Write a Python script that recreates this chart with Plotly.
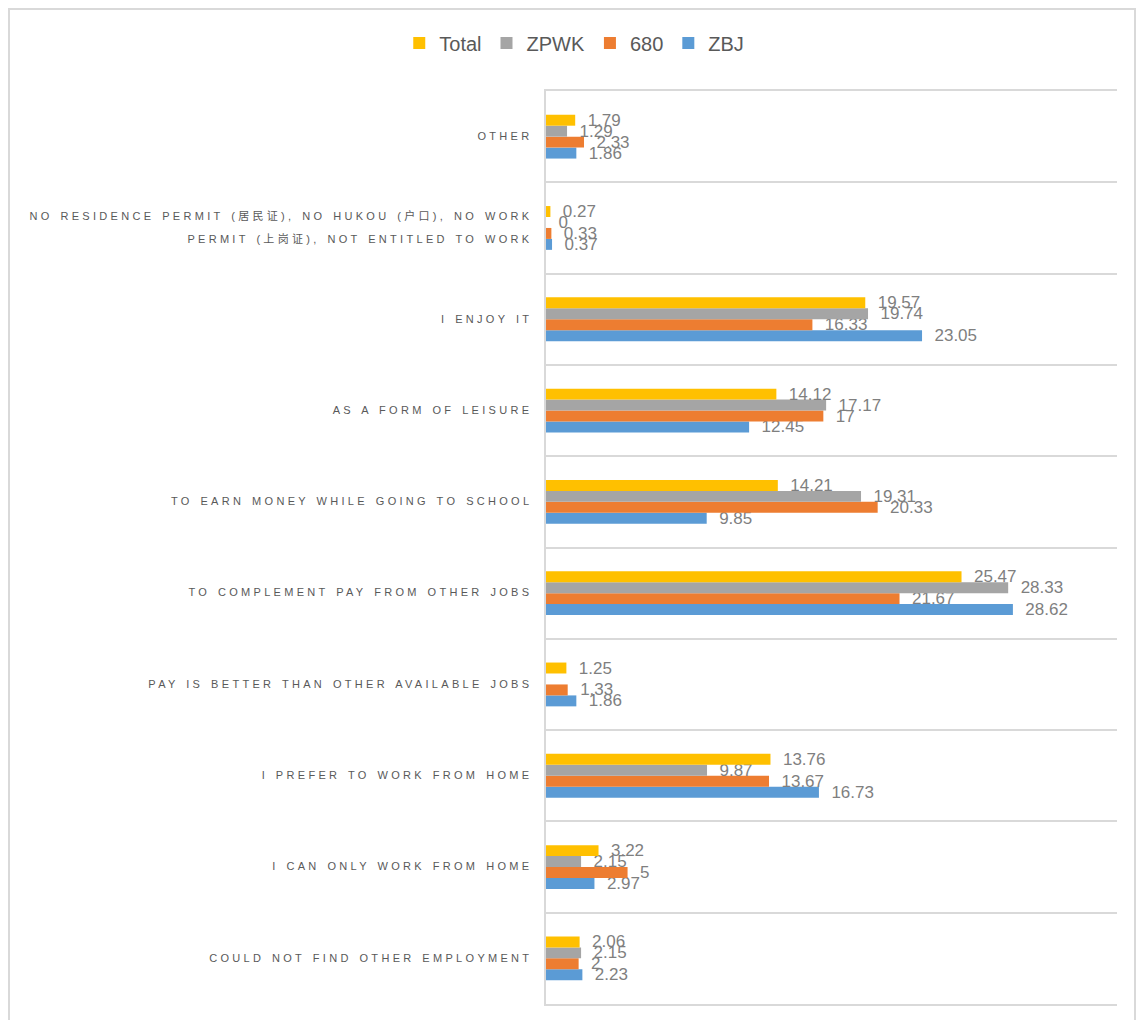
import plotly.graph_objects as go

# Categories listed bottom to top
categories = [
    "COULD NOT FIND OTHER EMPLOYMENT",
    "I CAN ONLY WORK FROM HOME",
    "I PREFER TO WORK FROM HOME",
    "PAY IS BETTER THAN OTHER AVAILABLE JOBS",
    "TO COMPLEMENT PAY FROM OTHER JOBS",
    "TO EARN MONEY WHILE GOING TO SCHOOL",
    "AS A FORM OF LEISURE",
    "I ENJOY IT",
    "NO RESIDENCE PERMIT (居民证), NO HUKOU (户口), NO WORK<br>PERMIT (上岗证), NOT ENTITLED TO WORK",
    "OTHER",
]
total = [2.06, 3.22, 13.76, 1.25, 25.47, 14.21, 14.12, 19.57, 0.27, 1.79]
zpwk = [2.15, 2.15, 9.87, None, 28.33, 19.31, 17.17, 19.74, 0, 1.29]
s680 = [2, 5, 13.67, 1.33, 21.67, 20.33, 17, 16.33, 0.33, 2.33]
zbj = [2.23, 2.97, 16.73, 1.86, 28.62, 9.85, 12.45, 23.05, 0.37, 1.86]

series = [("ZBJ", zbj, "#5b9bd5"), ("680", s680, "#ed7d31"),
          ("ZPWK", zpwk, "#a5a5a5"), ("Total", total, "#ffc000")]

# page has an 8px body margin; figure sized to fit the window exactly
W, H = 1128, 1012
ML, MR, MT, MB = 538, 19, 83, 16

ypos = list(range(len(categories)))

def styled(label):
    return "<br>".join(
        '<span style="letter-spacing:3.3px;word-spacing:1.5px;font-size:11px">%s</span>' % part
        for part in label.split("<br>"))

fig = go.Figure()
for name, vals, color in series:
    fig.add_trace(go.Bar(
        y=ypos, x=vals, name=name, orientation="h",
        marker=dict(color=color, line=dict(width=0)),
        texttemplate="  %{x}", textposition="outside",
        textfont=dict(size=17, color="#7f7f7f", family="Liberation Sans, Noto Sans CJK SC"),
        constraintext="none", cliponaxis=False,
    ))

pw, ph = W - ML - MR, H - MT - MB
bx0, bx1 = (1 - ML) / pw, (W - 1 - ML) / pw
by0, by1 = -(MB + 20) / ph, (H - MB - 1) / ph
fig.add_shape(type="path", xref="paper", yref="paper",
              path="M %f,%f L %f,%f L %f,%f L %f,%f" % (bx0, by0, bx0, by1, bx1, by1, bx1, by0),
              line=dict(color="#d9d9d9", width=2), layer="below")

fig.update_layout(
    width=W, height=H,
    margin=dict(l=ML, r=MR, t=MT, b=MB, autoexpand=False),
    paper_bgcolor="white", plot_bgcolor="white",
    barmode="group", bargap=0.52, bargroupgap=0,
    font=dict(family="Liberation Sans, Noto Sans CJK SC", color="#595959"),
    legend=dict(orientation="h", traceorder="reversed",
                xref="container", yref="container",
                x=0.502, xanchor="center", y=1 - 35 / H, yanchor="middle",
                font=dict(size=20, color="#595959"), itemwidth=30),
    xaxis=dict(range=[0, 35], showgrid=False, showticklabels=False, zeroline=False,
               showline=True, mirror=True, linecolor="#d9d9d9", linewidth=2, ticks=""),
    yaxis=dict(range=[-0.5, len(categories) - 0.5], tickvals=ypos,
               ticktext=[styled(c) for c in categories],
               tickfont=dict(size=18, color="#595959"),
               showgrid=False, zeroline=False, ticks="", ticklabelstandoff=8,
               ticklabelshift=-3,
               showline=True, linecolor="#d9d9d9", linewidth=2,
               minor=dict(tick0=-0.5, dtick=1, showgrid=True, gridcolor="#d9d9d9",
                          gridwidth=2, ticks="")),
)

fig.write_html("out.html")
